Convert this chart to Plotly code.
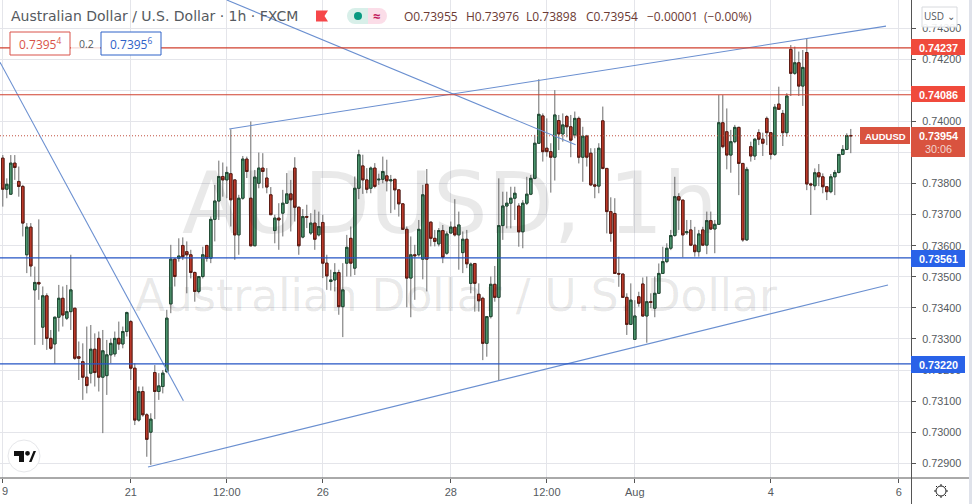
import plotly.graph_objects as go

# Prices in 1e-5 units
OPEN = [73882,73782,73766,73866,73807,73791,73571,73660,73458,73482,73338,73439,73302,73284,73370,73431,73367,73388,73399,73243,73227,73177,73190,73267,73302,73177,73182,73249,73252,73302,73284,73324,73356,
73206,73039,73131,73056,73000,73192,73131,73147,73195,73413,73557,73560,73601,73581,73571,73514,73453,73501,73601,73560,73685,73744,73823,73812,
73832,73812,73635,73753,73879,73753,73600,73801,73850,73818,73764,73649,73689,73705,73737,73767,73850,73724,73628,73694,73641,73673,73635,
73675,73544,73485,73490,73514,73404,73544,73624,73528,73785,73857,73812,73785,73850,73812,73814,73825,73809,73814,73780,73735,73653,73496,73571,73571,73557,73798,73676,73624,73606,73649,73576,73641,73660,73635,73578,73621,
73479,73543,73444,73431,73286,73372,73476,73434,73665,73728,73737,73753,73728,73645,73737,73766,73817,73930,74018,73914,73903,73885,74003,73960,74016,73983,73957,74010,73885,73953,73898,73796,73792,74002,73849,73710,73704,73511,73509,73434,73347,73299,73436,73477,73374,73420,73399,73447,73511,73549,73592,73633,73758,73747,73642,73651,73602,73581,73651,73602,
73681,73654,73669,73996,73967,73892,73935,73981,73865,73619,73919,73889,73964,73943,74010,73964,73894,74056,74026,73964,74232,74155,74189,74114,74222,73799,73793,73835,73822,73790,73774,73822,73836,73894,73910,73955]
CLOSE = [73782,73798,73866,73852,73791,73673,73660,73535,73482,73477,73439,73302,73270,73370,73431,73377,73388,73458,73238,73238,73177,73150,73267,73192,73177,73262,73249,73286,73302,73284,73324,73385,73206,
73039,73131,73056,72977,73042,73131,73149,73190,73367,73557,73501,73567,73565,73571,73514,73453,73501,73571,73560,73685,73744,73823,73812,73836,
73748,73635,73753,73879,73839,73600,73821,73850,73839,73789,73700,73689,73683,73737,73767,73748,73724,73600,73694,73692,73673,73621,73662,
73544,73503,73490,73514,73404,73458,73595,73544,73785,73893,73812,73782,73850,73791,73814,73839,73809,73812,73780,73735,73653,73496,73571,73568,73653,73764,73557,73624,73614,73649,73563,73638,73660,73635,73667,73621,73542,
73541,73479,73423,73286,73372,73476,73434,73665,73728,73737,73753,73769,73645,73737,73766,73817,73930,74023,73903,73903,73885,74021,73960,73989,73983,73940,74010,73885,73953,73885,73796,73792,73914,73849,73710,73640,73511,73509,73434,73347,73425,73374,73415,73374,73420,73418,73447,73511,73549,73592,73633,73758,73747,73635,73645,73602,73581,73638,73602,73681,
73654,73669,73996,73919,73892,73935,73981,73865,73619,73846,73889,73943,73943,73930,73964,73894,74046,74039,73964,74082,74155,74189,74114,74174,73799,73796,73835,73822,73790,73774,73822,73836,73894,73910,73955,73954]
HIGH = [73892,73817,73892,73892,73855,73796,73673,73673,73533,73685,73469,73447,73329,73372,73474,73469,73474,73571,73399,73292,73286,73340,73345,73318,73324,73329,73297,73302,73324,73356,73340,73388,73361,
73222,73147,73147,73061,73061,73216,73190,73200,73394,73603,73560,73624,73627,73614,73587,73517,73503,73597,73603,73694,73796,73874,73868,73855,
73975,73812,73764,73889,73887,74000,73844,73900,73898,73850,73789,73700,73737,73780,73834,73812,73885,73726,73718,73732,73705,73716,73710,
73700,73571,73523,73544,73523,73544,73635,73662,73823,73909,73893,73850,73855,73866,73832,73887,73877,73828,73814,73780,73735,73662,73630,73603,73683,73796,73847,73678,73651,73657,73667,73646,73678,73750,73710,73646,73651,
73546,73543,73479,73436,73374,73501,73535,73817,73774,73774,73790,73790,73737,73747,73822,73828,73957,74136,74026,74010,73930,74101,74021,74026,74021,74021,74032,74016,73983,73957,73914,73914,73930,74048,73849,73756,73753,73565,73509,73447,73479,73425,73452,73498,73501,73447,73501,73543,73597,73608,73651,73822,73769,73747,73683,73683,73661,73651,73661,73710,
73710,73683,74085,74085,74042,73973,73989,73983,73865,73854,73935,73946,73975,73964,74016,73964,74056,74112,74037,74091,74246,74241,74225,74230,74268,73803,73849,73863,73833,73790,73831,73844,73895,73924,73962,73976]
LOW = [73726,73753,73791,73812,73758,73630,73512,73501,73281,73426,73281,73265,73265,73220,73324,73340,73361,73329,73233,73168,73104,73125,73157,73147,73131,72997,73120,73222,73243,73265,73270,73308,73168,
73023,73034,73050,72921,72895,73042,73104,73125,73190,73383,73469,73549,73554,73447,73495,73420,73447,73495,73549,73544,73614,73683,73758,73753,
73662,73555,73571,73748,73818,73598,73789,73785,73785,73769,73700,73608,73587,73630,73737,73646,73678,73571,73624,73657,73635,73587,73630,
73496,73458,73456,73453,73378,73306,73501,73501,73506,73750,73767,73769,73769,73785,73796,73801,73775,73705,73716,73694,73651,73402,73370,73426,73565,73492,73453,73598,73598,73598,73544,73571,73641,73630,73523,73512,73528,
73447,73388,73388,73232,73243,73366,73420,73166,73619,73656,73656,73683,73597,73592,73731,73763,73814,73928,73871,73887,73771,73810,73908,73935,73949,73885,73946,73865,73806,73855,73792,73753,73769,73846,73640,73613,73511,73468,73434,73313,73345,73299,73404,73372,73288,73399,73370,73445,73511,73544,73586,73629,73651,73563,73635,73599,73565,73565,73599,73573,
73651,73576,73667,73914,73846,73835,73930,73763,73613,73616,73871,73876,73924,73889,73924,73878,73889,74037,73921,73951,74082,74150,74082,74050,73779,73699,73779,73792,73769,73747,73769,73763,73833,73892,73908,73898]

X_TICK_POS = [0, 32, 56, 80, 112, 136, 158, 192, 224]
X_TICK_TEXT = ["9", "21", "12:00", "26", "28", "12:00", "Aug", "4", "6"]
Y_TICKS = [0.729, 0.730, 0.731, 0.732, 0.733, 0.734, 0.735, 0.736, 0.737, 0.738, 0.739, 0.740, 0.741, 0.742, 0.743]

RED_LEVELS = [0.74237, 0.74086]
BLUE_LEVELS = [0.73561, 0.73220]
LAST_PRICE = 0.73954

TREND_X = [[36.3, 221.3], [56.6, 220.8], [-0.7, 45.15], [56.0, 143.2]]
TREND_Y = [[0.72888, 0.73474], [0.73976, 0.74307], [0.74191, 0.73101], [0.74391, 0.73925]]

W, H = 972, 504
PW, PH = 911, 478
RED = "#d0402f"
BLUE = "#2454c4"
LINE = "#6a8fd0"
GRID = "#e4e5ea"
TXT = "#555a60"
FONT = "Liberation Sans"
HFONT = "Open Sans"

def px(x): return x / PW
def py(y): return 1 - y / PH

bars = list(range(len(OPEN)))
op = [v / 1e5 for v in OPEN]
cl = [v / 1e5 for v in CLOSE]
hi = [v / 1e5 for v in HIGH]
lo = [v / 1e5 for v in LOW]
top = [max(a, b) for a, b in zip(op, cl)]
bot = [min(a, b) for a, b in zip(op, cl)]

fig = go.Figure()
# wicks
fig.add_trace(go.Candlestick(x=bars, open=op, high=hi, low=lo, close=cl,
    increasing=dict(line=dict(color="#6b6b6b", width=1), fillcolor="#6b6b6b"),
    decreasing=dict(line=dict(color="#6b6b6b", width=1), fillcolor="#6b6b6b"),
    showlegend=False, hoverinfo="skip"))
# bodies
fig.add_trace(go.Candlestick(x=bars, open=op, high=top, low=bot, close=cl,
    increasing=dict(line=dict(color="#1f4a33", width=1), fillcolor="#4f9a72"),
    decreasing=dict(line=dict(color="#5c1a12", width=1), fillcolor="#c23c2c"),
    showlegend=False, hoverinfo="skip"))

for xs, ys in zip(TREND_X, TREND_Y):
    fig.add_trace(go.Scatter(x=xs, y=ys, mode="lines", line=dict(color=LINE, width=1.1),
                             showlegend=False, hoverinfo="skip"))
for lv in RED_LEVELS:
    fig.add_trace(go.Scatter(x=[-0.7, 227.05], y=[lv, lv], mode="lines", line=dict(color=RED, width=1.2),
                             showlegend=False, hoverinfo="skip"))
for lv in BLUE_LEVELS:
    fig.add_trace(go.Scatter(x=[-0.7, 227.05], y=[lv, lv], mode="lines", line=dict(color=BLUE, width=1.2),
                             showlegend=False, hoverinfo="skip"))
fig.add_trace(go.Scatter(x=[-0.7, 227.05], y=[LAST_PRICE, LAST_PRICE], mode="lines",
                         line=dict(color="#c0503f", width=1, dash="1px 2px"),
                         showlegend=False, hoverinfo="skip"))

shapes = []
def rect(x0, y0, x1, y1, fill, line=None, lw=1):
    shapes.append(dict(type="rect", xref="paper", yref="paper", layer="above",
                       x0=px(x0), x1=px(x1), y0=py(y1), y1=py(y0),
                       fillcolor=fill, line=dict(color=line or fill, width=lw if line else 0)))
def seg(x0, y0, x1, y1, color, lw=1):
    shapes.append(dict(type="line", xref="paper", yref="paper", layer="above",
                       x0=px(x0), x1=px(x1), y0=py(y0), y1=py(y1), line=dict(color=color, width=lw)))
def circ(cx, cy, r, fill, line=None, lw=1):
    shapes.append(dict(type="circle", xref="paper", yref="paper", layer="above",
                       x0=px(cx - r), x1=px(cx + r), y0=py(cy + r), y1=py(cy - r),
                       fillcolor=fill, line=dict(color=line or fill, width=lw if line else 0)))

# axis frame
seg(911.5, 0, 911.5, 504, "#555", 1)
seg(0, 478, 969, 478, "#555", 1)
rect(969, 0, 972, 504, "#dfe2ea")

# level labels
rect(911, 39, 965, 55, "#f04a3c")
rect(911, 86, 965, 102, "#f04a3c")
rect(911, 250, 965, 267, "#2962e8")
rect(911, 356, 965, 373, "#2962e8")
rect(860, 127, 910, 144, "#d9533f")
rect(911, 127, 965, 157, "#d9533f")
# sell / buy boxes
rect(10, 32, 70, 55, "white", "#d9534a", 1)
rect(101, 32, 161, 55, "white", "#2f62c8", 1)
rect(71, 37, 100, 50, "rgba(255,255,255,0.8)")
# USD box
rect(922, 7, 957, 27, "rgba(255,255,255,0.9)", "#d8dade", 1)
# flag
shapes.append(dict(type="path", xref="paper", yref="paper", layer="above",
    path=f"M {px(316)} {py(10.5)} L {px(328)} {py(10.5)} L {px(324.5)} {py(16)} L {px(328)} {py(21.5)} L {px(316)} {py(21.5)} Z",
    fillcolor="#f6474a", line=dict(width=0)))
# status pill
rect(355, 8, 368, 24, "#d8efe9")
circ(355, 16, 8, "#d8efe9")
rect(368, 8, 379, 24, "#fbdde8")
circ(379, 16, 8, "#fbdde8")
circ(358, 16, 4, "#089981")
# TV logo
circ(24, 456, 16, "white", "#e6e7ea", 1)
shapes.append(dict(type="path", xref="paper", yref="paper", layer="above",
    path=f"M {px(14)} {py(451)} L {px(24)} {py(451)} L {px(24)} {py(462)} L {px(19)} {py(462)} L {px(19)} {py(456)} L {px(14)} {py(456)} Z",
    fillcolor="#111", line=dict(width=0)))
circ(27.5, 453.3, 2.4, "#111")
shapes.append(dict(type="path", xref="paper", yref="paper", layer="above",
    path=f"M {px(29)} {py(462)} L {px(33.5)} {py(451)} L {px(36)} {py(451)} L {px(31.5)} {py(462)} Z",
    fillcolor="#111", line=dict(width=0)))
# gear
circ(941, 491, 5, "white", "#222", 1)
for a, b, c, d in [(941, 484, 941, 486), (941, 496, 941, 498), (934, 491, 936, 491), (946, 491, 948, 491),
                   (936, 486, 937, 487), (945, 495, 946, 496), (946, 486, 945, 487), (936, 496, 937, 495)]:
    seg(a, b, c, d, "#222", 1)

ann = []
def text(x, y, s, size=12, color=TXT, anchor="left", bold=False, font=FONT):
    ann.append(dict(xref="paper", yref="paper", x=px(x), y=py(y), text=f"<b>{s}</b>" if bold else s,
                    showarrow=False, xanchor=anchor, yanchor="middle", borderpad=0,
                    font=dict(family=font, size=size, color=color)))

# watermarks
WM = "rgba(40,40,40,0.10)"
text(450, 203, "AUDUSD, 1h", 86, WM, "center", font="DejaVu Sans")
text(456, 295, "Australian Dollar / U.S. Dollar", 44, WM, "center", font="DejaVu Sans")
# header
text(10, 16, "Australian Dollar / U.S. Dollar · 1h · FXCM", 14, TXT, font="DejaVu Sans")
text(376, 16, "≈", 13, "#c2185b", "center", True, HFONT)
for xx, s in [(403, "O0.73955"), (465, "H0.73976"), (525, "L0.73898"), (585, "C0.73954"),
              (646, "−0.00001"), (703, "(−0.00%)")]:
    text(xx, 17, s, 12, "#6b3a34", font=HFONT)
text(40, 44, "0.7395<sup>4</sup>", 12, "#d9534a", "center", font=HFONT)
text(86, 44, "0.2", 10.5, TXT, "center", font=HFONT)
text(131, 44, "0.7395<sup>6</sup>", 12, "#2f62c8", "center", font=HFONT)
text(939.5, 16, "USD ⌄", 10, TXT, "center", font=HFONT)
# first x label sits against the left edge, where the axis would drop it
text(4.5, 491, X_TICK_TEXT[0], 11, TXT, "center")
# right labels
text(938, 47.5, "0.74237", 10.8, "white", "center", True)
text(938, 94.5, "0.74086", 10.8, "white", "center", True)
text(938, 258.5, "0.73561", 10.8, "white", "center", True)
text(938, 365, "0.73220", 10.8, "white", "center", True)
text(885, 136, "AUDUSD", 9.5, "white", "center", True)
text(938, 136, "0.73954", 10.8, "white", "center", True)
text(938, 149, "30:06", 10.8, "#f3d6d0", "center")

fig.update_layout(
    width=W, height=H, margin=dict(l=0, r=W - PW, t=0, b=H - PH),
    paper_bgcolor="white", plot_bgcolor="white", showlegend=False, shapes=shapes, annotations=ann,
    font=dict(family=FONT, size=11, color=TXT), boxgap=0.12,
    xaxis=dict(range=[-0.7, 227.05], rangeslider=dict(visible=False), tickmode="array",
               tickvals=X_TICK_POS, ticktext=[""] + X_TICK_TEXT[1:], showgrid=True, gridcolor=GRID, gridwidth=1,
               zeroline=False, showline=False, ticks="outside", ticklen=4, tickcolor="#555",
               tickfont=dict(family=FONT, size=11, color=TXT)),
    yaxis=dict(range=[0.728526, 0.74391], side="right", tickmode="array", tickvals=Y_TICKS,
               ticktext=[f"{v:.5f}" for v in Y_TICKS], showgrid=True, gridcolor=GRID, gridwidth=1,
               zeroline=False, showline=False, ticks="outside", ticklen=4, tickcolor="#555",
               ticklabelstandoff=4, tickfont=dict(family=FONT, size=10.8, color=TXT)),
)
fig.write_html("out.html", config=dict(displayModeBar=False),
               post_script="document.body.style.margin='0';document.body.style.overflow='hidden';")
